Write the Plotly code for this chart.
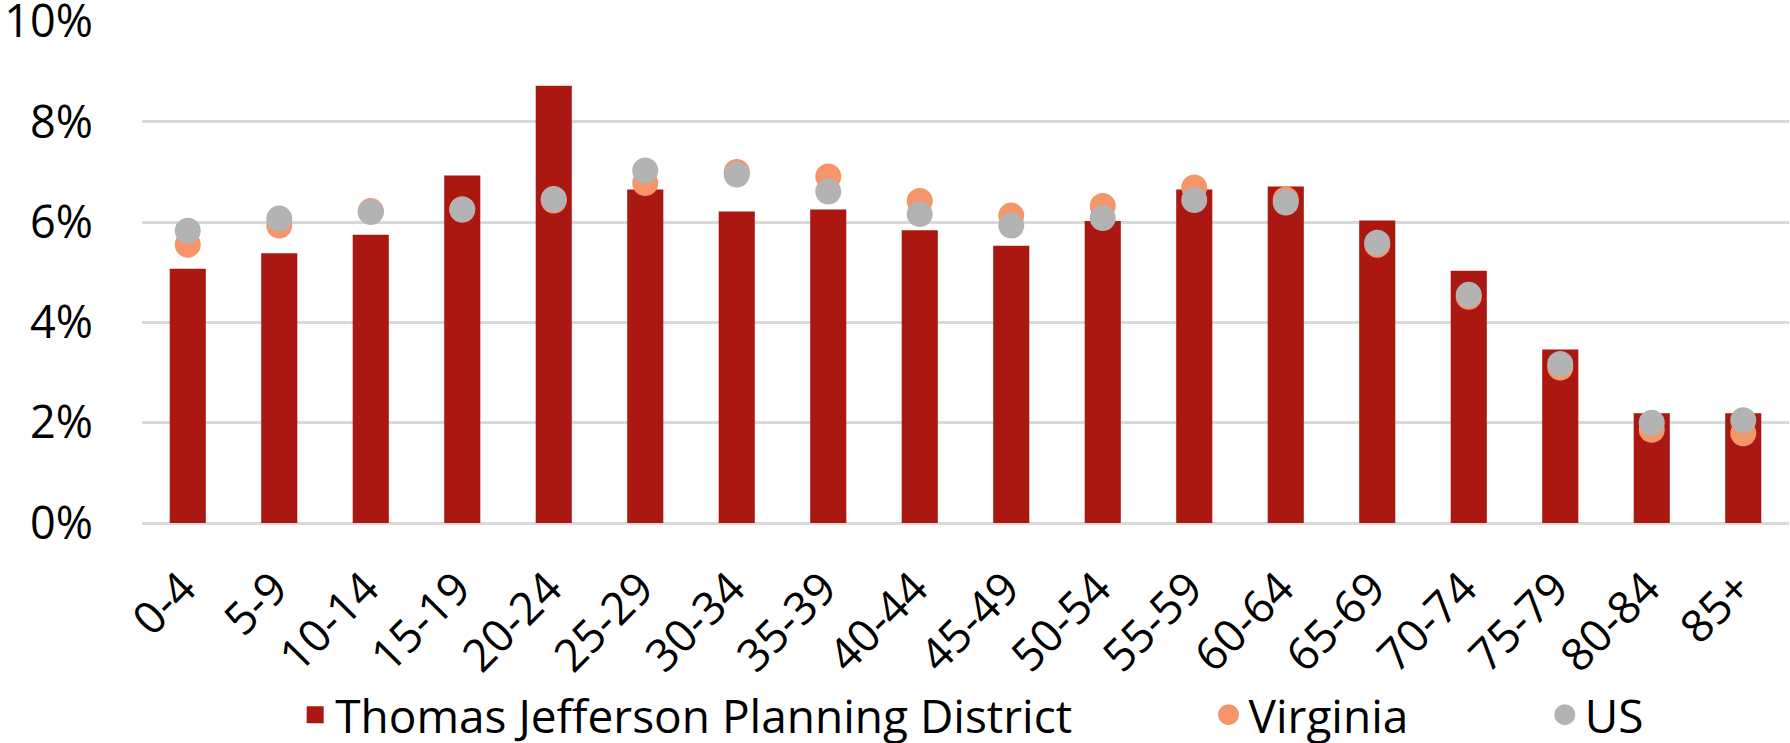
import plotly.graph_objects as go

categories = ["0-4", "5-9", "10-14", "15-19", "20-24", "25-29", "30-34", "35-39",
              "40-44", "45-49", "50-54", "55-59", "60-64", "65-69", "70-74",
              "75-79", "80-84", "85+"]
tjpd = [5.02, 5.33, 5.70, 6.88, 8.67, 6.60, 6.16, 6.20, 5.79, 5.48, 5.97, 6.60,
        6.66, 5.98, 4.98, 3.41, 2.14, 2.14]
virginia = [5.55, 5.93, 6.22, 6.25, 6.43, 6.78, 7.00, 6.91, 6.42, 6.13, 6.32, 6.69,
            6.45, 5.55, 4.51, 3.10, 1.86, 1.79]
us = [5.83, 6.07, 6.20, 6.25, 6.46, 7.03, 6.95, 6.61, 6.16, 5.93, 6.08, 6.44,
      6.39, 5.59, 4.55, 3.17, 2.00, 2.05]
y_ticks = [0, 2, 4, 6, 8, 10]
y_tick_labels = ["0%", "2%", "4%", "6%", "8%", "10%"]

FONT = "Open Sans"
NB = "\u00a0"
fig = go.Figure()
fig.add_trace(go.Bar(x=categories, y=tjpd,
                     name="Thomas Jefferson Planning District" + NB * 11,
                     marker=dict(color="#AB1812", line=dict(width=5, color="#AB1812"))))
fig.add_trace(go.Scatter(x=categories, y=virginia, name="Virginia" + NB * 11, mode="markers",
                         marker=dict(color="#F4956A", size=21,
                                     line=dict(width=5, color="#F4956A"))))
fig.add_trace(go.Scatter(x=categories, y=us, name="US", mode="markers",
                         marker=dict(color="#B3B3B3", size=21,
                                     line=dict(width=5, color="#B3B3B3"))))

fig.update_layout(
    width=1790, height=743,
    margin=dict(l=142, r=1, t=21, b=220),
    paper_bgcolor="white", plot_bgcolor="white",
    font=dict(family=FONT, size=45, color="#000000"),
    bargap=0.66,
    showlegend=True,
    legend=dict(orientation="h", x=0.093, xanchor="left", xref="paper",
                y=0.038, yanchor="middle", yref="container",
                font=dict(size=46), itemsizing="trace", traceorder="normal"),
)
fig.update_yaxes(range=[0, 10.01], tickmode="array", tickvals=y_ticks, ticktext=y_tick_labels,
                 showgrid=True, gridcolor="#D9D9D9", gridwidth=2.5,
                 zeroline=True, zerolinecolor="#D9D9D9", zerolinewidth=2.5,
                 showline=False, ticks="", ticklabelstandoff=48, automargin=False,
                 ticklabeloverflow="allow", tickfont=dict(size=45))
fig.update_xaxes(range=[-0.5, 17.5], tickangle=-45, showgrid=False, showline=False,
                 ticks="", automargin=False, ticklabelstandoff=29, ticklabelshift=-5,
                 tickfont=dict(size=45))

fig.write_html("out.html", config={"displayModeBar": False},
               post_script="document.body.style.margin='0';")
